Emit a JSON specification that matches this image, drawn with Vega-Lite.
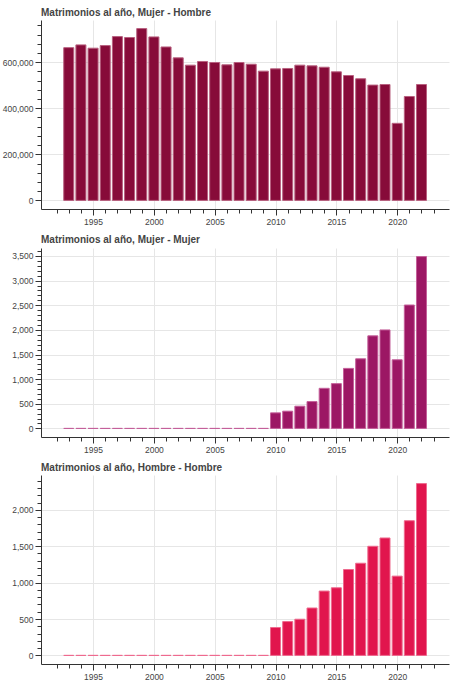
{
  "$schema": "https://vega.github.io/schema/vega-lite/v6.json",
  "padding": {"left": 2, "top": 8, "right": 3, "bottom": 3},
  "spacing": 9,
  "datasets": {
    "mh": [
      {"year": 1993, "value": 663000}, {"year": 1994, "value": 675000}, {"year": 1995, "value": 660600},
      {"year": 1996, "value": 672000}, {"year": 1997, "value": 711000}, {"year": 1998, "value": 707000},
      {"year": 1999, "value": 745700}, {"year": 2000, "value": 709600}, {"year": 2001, "value": 666000},
      {"year": 2002, "value": 618700}, {"year": 2003, "value": 587000}, {"year": 2004, "value": 603000},
      {"year": 2005, "value": 598600}, {"year": 2006, "value": 588500}, {"year": 2007, "value": 598600},
      {"year": 2008, "value": 591000}, {"year": 2009, "value": 561000}, {"year": 2010, "value": 571000},
      {"year": 2011, "value": 572600}, {"year": 2012, "value": 587000}, {"year": 2013, "value": 584000},
      {"year": 2014, "value": 578000}, {"year": 2015, "value": 558000}, {"year": 2016, "value": 542000},
      {"year": 2017, "value": 528000}, {"year": 2018, "value": 500500}, {"year": 2019, "value": 503000},
      {"year": 2020, "value": 334600}, {"year": 2021, "value": 451000}, {"year": 2022, "value": 503000}
    ],
    "mm": [
      {"year": 1993, "value": 0}, {"year": 1994, "value": 0}, {"year": 1995, "value": 0},
      {"year": 1996, "value": 0}, {"year": 1997, "value": 0}, {"year": 1998, "value": 0},
      {"year": 1999, "value": 0}, {"year": 2000, "value": 0}, {"year": 2001, "value": 0},
      {"year": 2002, "value": 0}, {"year": 2003, "value": 0}, {"year": 2004, "value": 0},
      {"year": 2005, "value": 0}, {"year": 2006, "value": 0}, {"year": 2007, "value": 0},
      {"year": 2008, "value": 0}, {"year": 2009, "value": 0}, {"year": 2010, "value": 316},
      {"year": 2011, "value": 350}, {"year": 2012, "value": 451}, {"year": 2013, "value": 545},
      {"year": 2014, "value": 814}, {"year": 2015, "value": 909}, {"year": 2016, "value": 1218},
      {"year": 2017, "value": 1413}, {"year": 2018, "value": 1878}, {"year": 2019, "value": 1999},
      {"year": 2020, "value": 1393}, {"year": 2021, "value": 2504}, {"year": 2022, "value": 3487}
    ],
    "hh": [
      {"year": 1993, "value": 0}, {"year": 1994, "value": 0}, {"year": 1995, "value": 0},
      {"year": 1996, "value": 0}, {"year": 1997, "value": 0}, {"year": 1998, "value": 0},
      {"year": 1999, "value": 0}, {"year": 2000, "value": 0}, {"year": 2001, "value": 0},
      {"year": 2002, "value": 0}, {"year": 2003, "value": 0}, {"year": 2004, "value": 0},
      {"year": 2005, "value": 0}, {"year": 2006, "value": 0}, {"year": 2007, "value": 0},
      {"year": 2008, "value": 0}, {"year": 2009, "value": 0}, {"year": 2010, "value": 383},
      {"year": 2011, "value": 465}, {"year": 2012, "value": 497}, {"year": 2013, "value": 651},
      {"year": 2014, "value": 884}, {"year": 2015, "value": 929}, {"year": 2016, "value": 1180},
      {"year": 2017, "value": 1266}, {"year": 2018, "value": 1499}, {"year": 2019, "value": 1613},
      {"year": 2020, "value": 1089}, {"year": 2021, "value": 1850}, {"year": 2022, "value": 2360}
    ]
  },
  "vconcat": [
    {
      "data": {"name": "mh"},
      "width": 408,
      "height": 189,
      "title": {"text": "Matrimonios al año, Mujer - Hombre"},
      "mark": {"type": "bar", "width": 10, "fill": "#870B39", "stroke": "#b8607f", "strokeWidth": 1},
      "encoding": {
        "x": {
          "field": "year", "type": "quantitative",
          "scale": {"domain": [1991.13, 2023.85], "nice": false, "zero": false},
          "axis": {
            "values": [1992, 1993, 1994, 1995, 1996, 1997, 1998, 1999, 2000, 2001, 2002, 2003, 2004, 2005, 2006, 2007, 2008, 2009, 2010, 2011, 2012, 2013, 2014, 2015, 2016, 2017, 2018, 2019, 2020, 2021, 2022, 2023],
            "format": "d",
            "labelExpr": "datum.value % 5 === 0 ? datum.label : ''",
            "tickSize": {"condition": {"test": "datum.value % 5 === 0", "value": 6}, "value": 4},
            "gridOpacity": {"condition": {"test": "datum.value % 5 === 0", "value": 1}, "value": 0}
          }
        },
        "y": {
          "field": "value", "type": "quantitative",
          "scale": {"domain": [-37300, 783000], "nice": false, "zero": false},
          "axis": {
            "values": [0, 40000, 80000, 120000, 160000, 200000, 240000, 280000, 320000, 360000, 400000, 440000, 480000, 520000, 560000, 600000, 640000, 680000, 720000, 760000],
            "format": ",d",
            "labelExpr": "datum.value % 200000 === 0 ? datum.label : ''",
            "tickSize": {"condition": {"test": "datum.value % 200000 === 0", "value": 6}, "value": 4},
            "gridOpacity": {"condition": {"test": "datum.value % 200000 === 0", "value": 1}, "value": 0}
          }
        },
        "y2": {"datum": 0}
      }
    },
    {
      "data": {"name": "mm"},
      "width": 408,
      "height": 189,
      "title": {"text": "Matrimonios al año, Mujer - Mujer"},
      "mark": {"type": "bar", "width": 10, "fill": "#9C1764", "stroke": "#c4609a", "strokeWidth": 1},
      "encoding": {
        "x": {
          "field": "year", "type": "quantitative",
          "scale": {"domain": [1991.13, 2023.85], "nice": false, "zero": false},
          "axis": {
            "values": [1992, 1993, 1994, 1995, 1996, 1997, 1998, 1999, 2000, 2001, 2002, 2003, 2004, 2005, 2006, 2007, 2008, 2009, 2010, 2011, 2012, 2013, 2014, 2015, 2016, 2017, 2018, 2019, 2020, 2021, 2022, 2023],
            "format": "d",
            "labelExpr": "datum.value % 5 === 0 ? datum.label : ''",
            "tickSize": {"condition": {"test": "datum.value % 5 === 0", "value": 6}, "value": 4},
            "gridOpacity": {"condition": {"test": "datum.value % 5 === 0", "value": 1}, "value": 0}
          }
        },
        "y": {
          "field": "value", "type": "quantitative",
          "scale": {"domain": [-174, 3661], "nice": false, "zero": false},
          "axis": {
            "values": [0, 100, 200, 300, 400, 500, 600, 700, 800, 900, 1000, 1100, 1200, 1300, 1400, 1500, 1600, 1700, 1800, 1900, 2000, 2100, 2200, 2300, 2400, 2500, 2600, 2700, 2800, 2900, 3000, 3100, 3200, 3300, 3400, 3500, 3600],
            "format": ",d",
            "labelExpr": "datum.value % 500 === 0 ? datum.label : ''",
            "tickSize": {"condition": {"test": "datum.value % 500 === 0", "value": 6}, "value": 4},
            "gridOpacity": {"condition": {"test": "datum.value % 500 === 0", "value": 1}, "value": 0}
          }
        },
        "y2": {"datum": 0}
      }
    },
    {
      "data": {"name": "hh"},
      "width": 408,
      "height": 189,
      "title": {"text": "Matrimonios al año, Hombre - Hombre"},
      "mark": {"type": "bar", "width": 10, "fill": "#E1154D", "stroke": "#ee6a8e", "strokeWidth": 1},
      "encoding": {
        "x": {
          "field": "year", "type": "quantitative",
          "scale": {"domain": [1991.13, 2023.85], "nice": false, "zero": false},
          "axis": {
            "values": [1992, 1993, 1994, 1995, 1996, 1997, 1998, 1999, 2000, 2001, 2002, 2003, 2004, 2005, 2006, 2007, 2008, 2009, 2010, 2011, 2012, 2013, 2014, 2015, 2016, 2017, 2018, 2019, 2020, 2021, 2022, 2023],
            "format": "d",
            "labelExpr": "datum.value % 5 === 0 ? datum.label : ''",
            "tickSize": {"condition": {"test": "datum.value % 5 === 0", "value": 6}, "value": 4},
            "gridOpacity": {"condition": {"test": "datum.value % 5 === 0", "value": 1}, "value": 0}
          }
        },
        "y": {
          "field": "value", "type": "quantitative",
          "scale": {"domain": [-118, 2478], "nice": false, "zero": false},
          "axis": {
            "values": [0, 100, 200, 300, 400, 500, 600, 700, 800, 900, 1000, 1100, 1200, 1300, 1400, 1500, 1600, 1700, 1800, 1900, 2000, 2100, 2200, 2300, 2400],
            "format": ",d",
            "labelExpr": "datum.value % 500 === 0 ? datum.label : ''",
            "tickSize": {"condition": {"test": "datum.value % 500 === 0", "value": 6}, "value": 4},
            "gridOpacity": {"condition": {"test": "datum.value % 500 === 0", "value": 1}, "value": 0}
          }
        },
        "y2": {"datum": 0}
      }
    }
  ],
  "config": {
    "view": {"stroke": null},
    "title": {"anchor": "start", "frame": "group", "font": "Liberation Sans", "fontSize": 10, "fontWeight": "bold", "color": "#444444", "offset": 2},
    "axis": {
      "title": null,
      "labelFont": "Liberation Sans",
      "labelFontSize": 8.5,
      "labelColor": "#444444",
      "labelOverlap": false,
      "labelFlush": false,
      "domainColor": "#333333",
      "tickColor": "#333333",
      "gridColor": "#e6e6e6",
      "labelPadding": 2
    }
  }
}
